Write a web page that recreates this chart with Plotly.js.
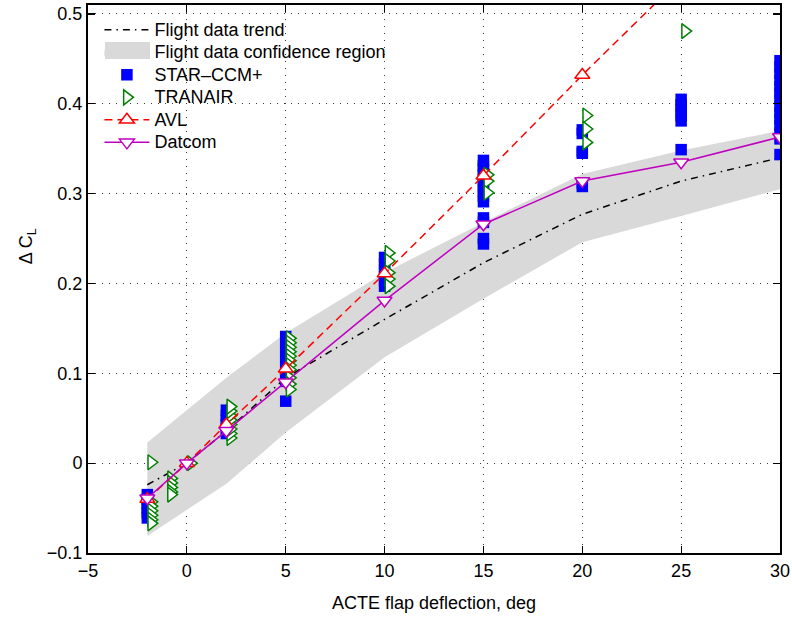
<!DOCTYPE html>
<html>
<head>
<meta charset="utf-8">
<script src="https://cdn.plot.ly/plotly-3.0.1.min.js"></script>
<style>
  html, body { margin: 0; padding: 0; background: #ffffff; }
  #chart { width: 792px; height: 621px; }
</style>
</head>
<body>
<div id="chart"></div>
<script>
// Flap deflection stations (deg)
const flapDeg = [-2, 0, 2, 5, 10, 15, 20, 25, 30];

// Flight data trend and its confidence band
const trendCL = [-0.024, 0.0, 0.036, 0.095, 0.160, 0.223, 0.277, 0.314, 0.340];
const bandDeg = [-2, 2, 5, 10, 15, 20, 25, 30];
const bandUpper = [0.023, 0.095, 0.145, 0.212, 0.268, 0.322, 0.348, 0.370];
const bandLower = [-0.081, -0.023, 0.034, 0.118, 0.183, 0.246, 0.275, 0.305];

// STAR-CCM+ results, one list per deflection
const starDeg = [-2, 2, 5, 10, 15, 20, 25, 30];
const starM2 = [-0.035, -0.040, -0.045, -0.050, -0.055, -0.061];
const star2 = [0.033, 0.038, 0.043, 0.048, 0.053, 0.059];
const star5 = [0.069, 0.091, 0.097, 0.103, 0.109, 0.115, 0.121, 0.128, 0.134, 0.141];
const star10 = [0.197, 0.203, 0.209, 0.215, 0.222, 0.229];
const star15 = [0.244, 0.250, 0.268, 0.273, 0.291, 0.297, 0.303, 0.309, 0.315, 0.321, 0.327, 0.331, 0.337];
const star20 = [0.308, 0.312, 0.345, 0.347, 0.367, 0.371];
const star25 = [0.349, 0.381, 0.387, 0.393, 0.399, 0.405];
const star30 = [0.3435, 0.361, 0.368, 0.376, 0.383, 0.390, 0.397, 0.405, 0.412, 0.419, 0.426, 0.434, 0.441, 0.448];
const starSets = [starM2, star2, star5, star10, star15, star20, star25, star30];

// TRANAIR results, one list per deflection (markers sit just right of each station)
const tranDeg = [-1.8, -0.8, 0.2, 2.2, 5.2, 10.2, 15.2, 20.2, 25.2];
const tranM2 = [0.001, -0.043, -0.048, -0.053, -0.058, -0.063, -0.067];
const tranM1 = [-0.017, -0.022, -0.027, -0.032, -0.035];
const tran0 = [0.0];
const tran2 = [0.028, 0.033, 0.038, 0.043, 0.048, 0.053, 0.058, 0.063];
const tran5 = [0.139, 0.134, 0.129, 0.124, 0.119, 0.114, 0.109, 0.104, 0.095, 0.088, 0.082];
const tran10 = [0.234, 0.225, 0.212, 0.205, 0.197];
const tran15 = [0.321, 0.314, 0.301];
const tran20 = [0.387, 0.372, 0.357];
const tran25 = [0.481];
const tranSets = [tranM2, tranM1, tran0, tran2, tran5, tran10, tran15, tran20, tran25];

// Vortex-lattice and Datcom predictions
const avlCL = [-0.040, 0.0, 0.043, 0.105, 0.211, 0.320, 0.432, 0.540, 0.648];
const datcomCL = [-0.039, 0.0, 0.036, 0.090, 0.181, 0.266, 0.314, 0.335, 0.363];

// Tick values
const xTicks = [-5, 0, 5, 10, 15, 20, 25, 30];
const yTicks = [-0.1, 0, 0.1, 0.2, 0.3, 0.4, 0.5];

function flatten(stations, sets) {
  const xs = [], ys = [];
  stations.forEach((d, i) => sets[i].forEach(v => { xs.push(d); ys.push(v); }));
  return { xs, ys };
}
const star = flatten(starDeg, starSets);
const tran = flatten(tranDeg, tranSets);

const FONT = 'Liberation Sans, Arial, Helvetica, sans-serif';
// legend rows are spaced for 15px text, labels drawn at 18px
const big = s => '<span style="font-size:18px">' + s + '</span>';

const traces = [
  {
    name: big('Flight data confidence region'),
    x: bandDeg.concat(bandDeg.slice().reverse()),
    y: bandLower.concat(bandUpper.slice().reverse()),
    type: 'scatter', mode: 'lines', fill: 'toself',
    fillcolor: '#d9d9d9', line: { width: 0, color: '#d9d9d9' },
    legendrank: 2, hoverinfo: 'skip'
  },
  {
    name: big('Flight data trend'),
    x: flapDeg, y: trendCL, type: 'scatter', mode: 'lines',
    line: { color: '#000000', width: 1.5, dash: '7px,5px,1.5px,5px' },
    legendrank: 1
  },
  {
    name: big('STAR\u2013CCM+'),
    x: star.xs, y: star.ys, type: 'scatter', mode: 'markers',
    marker: { symbol: 'square', size: 11.5, color: '#0000ff', line: { width: 0 } },
    legendrank: 3
  },
  {
    name: big('TRANAIR'),
    x: tran.xs, y: tran.ys, type: 'scatter', mode: 'markers',
    marker: { symbol: 'triangle-right', size: 13, color: '#ffffff',
              line: { width: 1.5, color: '#008000' } },
    legendrank: 4
  },
  {
    name: big('AVL'),
    x: flapDeg, y: avlCL, type: 'scatter', mode: 'lines+markers',
    line: { color: '#ff0000', width: 1.5, dash: '8px,5px' },
    marker: { symbol: 'triangle-up', size: 13, color: '#ffffff',
              line: { width: 1.5, color: '#ff0000' } },
    legendrank: 5
  },
  {
    name: big('Datcom'),
    x: flapDeg, y: datcomCL, type: 'scatter', mode: 'lines+markers',
    line: { color: '#bf00bf', width: 1.5 },
    marker: { symbol: 'triangle-down', size: 13, color: '#ffffff',
              line: { width: 1.5, color: '#bf00bf' } },
    legendrank: 6
  }
];

const axisCommon = {
  showline: true, linecolor: '#000000', linewidth: 2,
  mirror: 'ticks', ticks: 'inside', ticklen: 7, tickwidth: 1.2, tickcolor: '#000000',
  showgrid: true, gridcolor: '#3a3a3a', gridwidth: 1, griddash: '1px,6px',
  zeroline: false, tickfont: { family: FONT, size: 18, color: '#000000' }
};

const layout = {
  width: 792, height: 621,
  margin: { l: 88, r: 12, t: 5, b: 68 },
  paper_bgcolor: '#ffffff', plot_bgcolor: '#ffffff',
  font: { family: FONT, size: 18, color: '#000000' },
  showlegend: true,
  legend: {
    x: 0.0165, y: 0.9843, xanchor: 'left', yanchor: 'top',
    bgcolor: 'rgba(255,255,255,0)', borderwidth: 0, itemwidth: 45,
    font: { family: FONT, size: 15, color: '#000000' },
    tracegroupgap: 0
  },
  xaxis: Object.assign({}, axisCommon, {
    range: [-5, 30], tickvals: xTicks,
    title: { text: 'ACTE flap deflection, deg', font: { family: FONT, size: 18 }, standoff: 17 }
  }),
  yaxis: Object.assign({}, axisCommon, {
    range: [-0.1, 0.51], tickvals: yTicks
  }),
  shapes: [
    // white panel behind the legend, hiding the grid there
    { type: 'rect', xref: 'paper', yref: 'paper', x0: 0, x1: 0.458, y0: 0.732, y1: 1,
      fillcolor: '#ffffff', line: { width: 0 }, layer: 'between' },
    // swatch for the confidence-region entry
    { type: 'rect', xref: 'paper', yref: 'paper', x0: 0.0246, x1: 0.0896, y0: 0.9015, y1: 0.9325,
      fillcolor: '#d9d9d9', line: { width: 0 }, layer: 'between' }
  ],
  annotations: [{
    text: '\u0394 C<sub>L</sub>', textangle: -90,
    xref: 'paper', yref: 'paper', x: -0.088, y: 0.56,
    xanchor: 'center', yanchor: 'middle', showarrow: false,
    font: { family: FONT, size: 18, color: '#000000' }
  }]
};

Plotly.newPlot('chart', traces, layout, { displayModeBar: false, staticPlot: true });
</script>
</body>
</html>
